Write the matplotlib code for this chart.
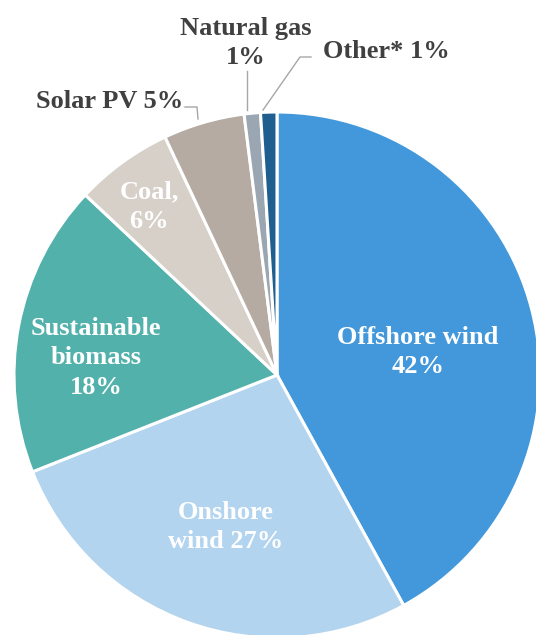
import matplotlib.pyplot as plt

plt.rcParams['font.family'] = ['Liberation Serif', 'DejaVu Serif']

sources = ['Offshore wind', 'Onshore wind', 'Sustainable biomass', 'Coal',
           'Solar PV', 'Natural gas', 'Other*']
shares = [42, 27, 18, 6, 5, 1, 1]
colors = ['#4298DA', '#B3D4EF', '#52B1AB', '#D6D0C9', '#B5ABA2', '#9AA6B2', '#1F5F8F']
labels = ['Offshore wind\n42%', 'Onshore\nwind 27%', 'Sustainable\nbiomass\n18%',
          'Coal,\n6%', 'Solar PV 5%', 'Natural gas\n1%', 'Other* 1%']

W, H = 536, 635
fig = plt.figure(figsize=(W / 100, H / 100), dpi=100)
ax = fig.add_axes([0, 0, 1, 1])

cx, cy, r = 277, H - 375, 263
wedges, _ = ax.pie(shares, colors=colors, startangle=90, counterclock=False,
                   center=(cx, cy), radius=r, frame=True,
                   wedgeprops=dict(edgecolor='white', linewidth=2.2))
ax.set_xlim(0, W)
ax.set_ylim(0, H)
ax.set_aspect('equal')
ax.axis('off')

txt = dict(fontsize=19, fontweight='bold', ha='center', va='center',
           linespacing=1.38)
# labels inside the slices
ax.text(418, H - 352, labels[0], color='white', **txt)
ax.text(226, H - 527, labels[1], color='white', **txt)
ax.text(96, H - 358, labels[2], color='white', **txt)
ax.text(149, H - 207, labels[3], color='white', **txt)

# labels outside with leader lines
dark = '#404040'
lead = '#A6A6A6'
ax.text(110, H - 101, labels[4], color=dark, **txt)
ax.plot([185, 197, 198], [H - 107, H - 107, H - 119], color=lead, lw=1)
ax.text(246, H - 43, labels[5], color=dark, **txt)
ax.plot([247, 247], [H - 71, H - 110], color=lead, lw=1)
ax.text(386, H - 52, labels[6], color=dark, **txt)
ax.plot([311, 300, 263], [H - 57, H - 57, H - 110], color=lead, lw=1)

fig.savefig('out.png', dpi=100)
